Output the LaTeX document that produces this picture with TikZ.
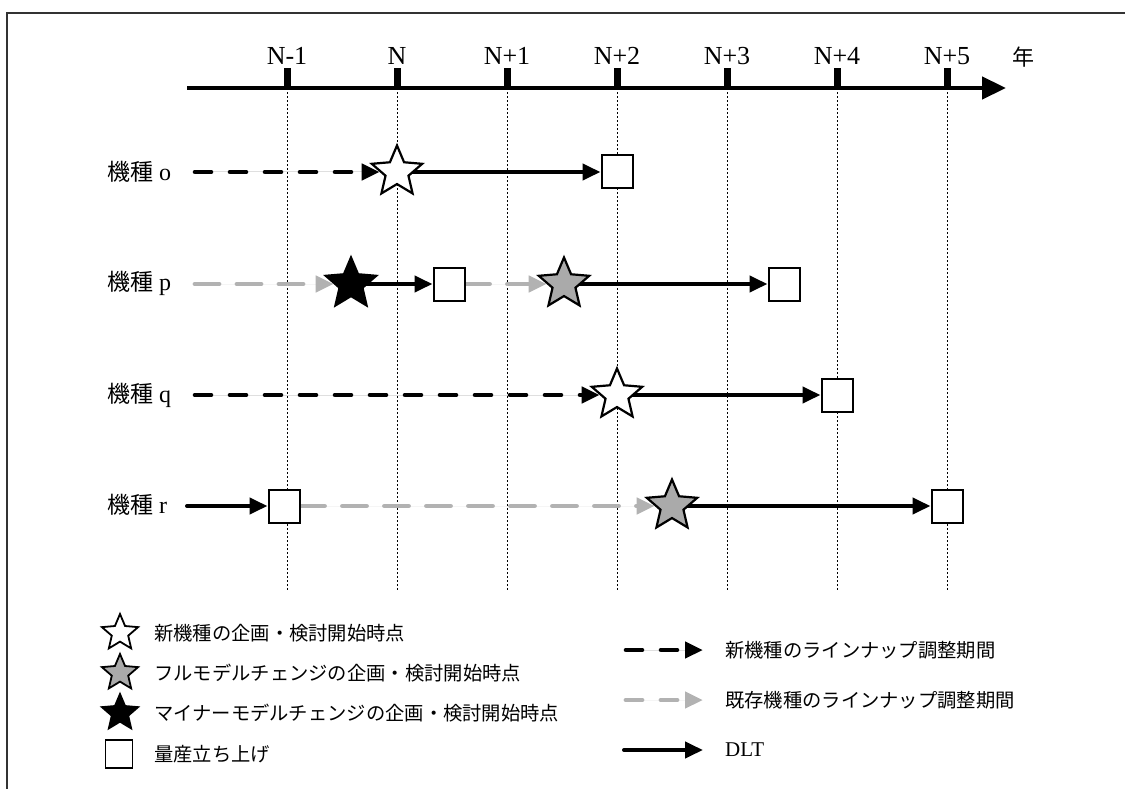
\documentclass[tikz,border=0pt]{standalone}
\usepackage{fontspec}
\setmainfont{Liberation Serif}
\newfontfamily\jp{Noto Sans CJK JP}
\usetikzlibrary{shapes.geometric,arrows.meta}
\pgfdeclarelayer{bg}
\pgfsetlayers{bg,main}
\definecolor{lgray}{RGB}{178,178,178}
\definecolor{sgray}{RGB}{170,170,170}
\begin{document}
\begin{tikzpicture}[x=1pt,y=-1pt,
  bigstar/.style={star,star points=5,star point ratio=2.2,minimum size=53pt,inner sep=0pt,draw=black,line width=2.2pt},
  smallstar/.style={bigstar,minimum size=38pt,line width=1.8pt},
  newfill/.style={fill=white},
  fullfill/.style={fill=sgray},
  minfill/.style={fill=black},
  mpbox/.style={draw=black,fill=white,line width=2pt,minimum width=31pt,minimum height=33pt,inner sep=0pt},
  tipstyle/.style={-{Triangle[length=18pt,width=16pt]}},
  dlt/.style={tipstyle,line width=4pt,draw=black},
  newadj/.style={tipstyle,line width=4.6pt,draw=black,fill=black,line cap=round,dash pattern=on 16pt off 19pt},
  oldadj/.style={tipstyle,line width=4.8pt,draw=lgray,fill=lgray,line cap=round,dash pattern=on 24pt off 18pt},
  ticknode/.style={fill=black,minimum width=7pt,minimum height=20pt,inner sep=0pt},
  yearlbl/.style={font=\fontsize{26}{30}\selectfont,inner sep=0pt},
  rowlbl/.style={anchor=west,inner sep=0pt,font=\fontsize{24}{28}\selectfont},
  leglbl/.style={anchor=west,inner sep=0pt,font=\jp\fontsize{19.3}{23}\selectfont},
  vdot/.style={line width=1pt,dash pattern=on 2pt off 2pt},
  frameline/.style={line width=1.6pt,draw=black!80}
]
\useasboundingbox (0,0) rectangle (1125,789);

% frame
\coordinate (fbl) at (7,789);
\coordinate (ftl) at (7,13);
\coordinate (ftr) at (1125,13);
\draw[frameline] (fbl) -- (ftl) -- (ftr);

% axis
\coordinate (axs) at (187,88);
\coordinate (axe) at (1006,88);
\draw[line width=4.5pt,-{Triangle[length=24pt,width=22pt]}] (axs) -- (axe);
\foreach \i/\x/\t in {1/287/N-1,2/397/N,3/507/N+1,4/617/N+2,5/727/N+3,6/837/N+4,7/947/N+5}{
  \node[ticknode] (t\i) at (\x,78) {};
  \node[yearlbl] (l\i) at (\x,56) {\t};
  \coordinate (d\i) at (\x,592);
  \begin{pgfonlayer}{bg}
    \draw[vdot] (t\i.south) -- (d\i);
  \end{pgfonlayer}
}
\node[inner sep=0pt,font=\jp\fontsize{22}{26}\selectfont] (nen) at (1023,57) {年};

% row labels
\node[rowlbl] (lo) at (107,172) {{\jp\fontsize{23}{27}\selectfont 機種} o};
\node[rowlbl] (lp) at (107,283) {{\jp\fontsize{23}{27}\selectfont 機種} p};
\node[rowlbl] (lq) at (107,395) {{\jp\fontsize{23}{27}\selectfont 機種} q};
\node[rowlbl] (lr) at (107,505) {{\jp\fontsize{23}{27}\selectfont 機種} r};

% row o
\coordinate (os) at (195,172);
\node[bigstar,newfill] (no) at (397,172) {};
\node[mpbox] (mo) at (617,172) {};
% row p
\coordinate (ps) at (195,284);
\node[bigstar,minfill] (np1) at (351,284) {};
\node[mpbox] (mp1) at (449,284) {};
\node[bigstar,fullfill] (np2) at (564,284) {};
\node[mpbox] (mp2) at (784,284) {};
% row q
\coordinate (qs) at (195,395);
\node[bigstar,newfill] (nq) at (617,395) {};
\node[mpbox] (mq) at (837,395) {};
% row r
\coordinate (rs) at (187,506);
\node[mpbox] (mr1) at (284,506) {};
\node[bigstar,fullfill] (nr) at (672,506) {};
\node[mpbox] (mr2) at (947,506) {};

\begin{pgfonlayer}{bg}
  \draw[newadj] (os) -- (no.west);
  \draw[dlt] (no.center) -- (mo.west);
  \draw[oldadj] (ps) -- (np1.west);
  \draw[dlt] (np1.center) -- (mp1.west);
  \draw[oldadj] (mp1.east) -- (np2.west);
  \draw[dlt] (np2.center) -- (mp2.west);
  \draw[newadj] (qs) -- (nq.west);
  \draw[dlt] (nq.center) -- (mq.west);
  \draw[dlt,line cap=round] (rs) -- (mr1.west);
  \draw[oldadj] (mr1.east) -- (nr.west);
  \draw[dlt] (nr.center) -- (mr2.west);
\end{pgfonlayer}

% legend left
\node[smallstar,newfill] (ls1) at (120,633) {};
\node[leglbl] (lt1) at (154,633) {新機種の企画・検討開始時点};
\node[smallstar,fullfill] (ls2) at (120,673) {};
\node[leglbl] (lt2) at (154,673) {フルモデルチェンジの企画・検討開始時点};
\node[smallstar,minfill] (ls3) at (120,713) {};
\node[leglbl] (lt3) at (154,713) {マイナーモデルチェンジの企画・検討開始時点};
\node[mpbox,minimum width=27pt,minimum height=28pt,line width=1.8pt] (ls4) at (119,754) {};
\node[leglbl] (lt4) at (154,754) {量産立ち上げ};

% legend right
\coordinate (a1s) at (626,650);
\coordinate (a1e) at (703,650);
\coordinate (a2s) at (626,700);
\coordinate (a2e) at (703,700);
\coordinate (a3s) at (624,750);
\coordinate (a3e) at (703,750);
\draw[newadj] (a1s) -- (a1e);
\draw[oldadj,dash pattern=on 16pt off 19pt] (a2s) -- (a2e);
\draw[dlt,line cap=round] (a3s) -- (a3e);
\node[leglbl] (rt1) at (725,650) {新機種のラインナップ調整期間};
\node[leglbl] (rt2) at (725,700) {既存機種のラインナップ調整期間};
\node[anchor=west,inner sep=0pt,font=\fontsize{21}{25}\selectfont] (rt3) at (725,750) {DLT};
\end{tikzpicture}
\end{document}
